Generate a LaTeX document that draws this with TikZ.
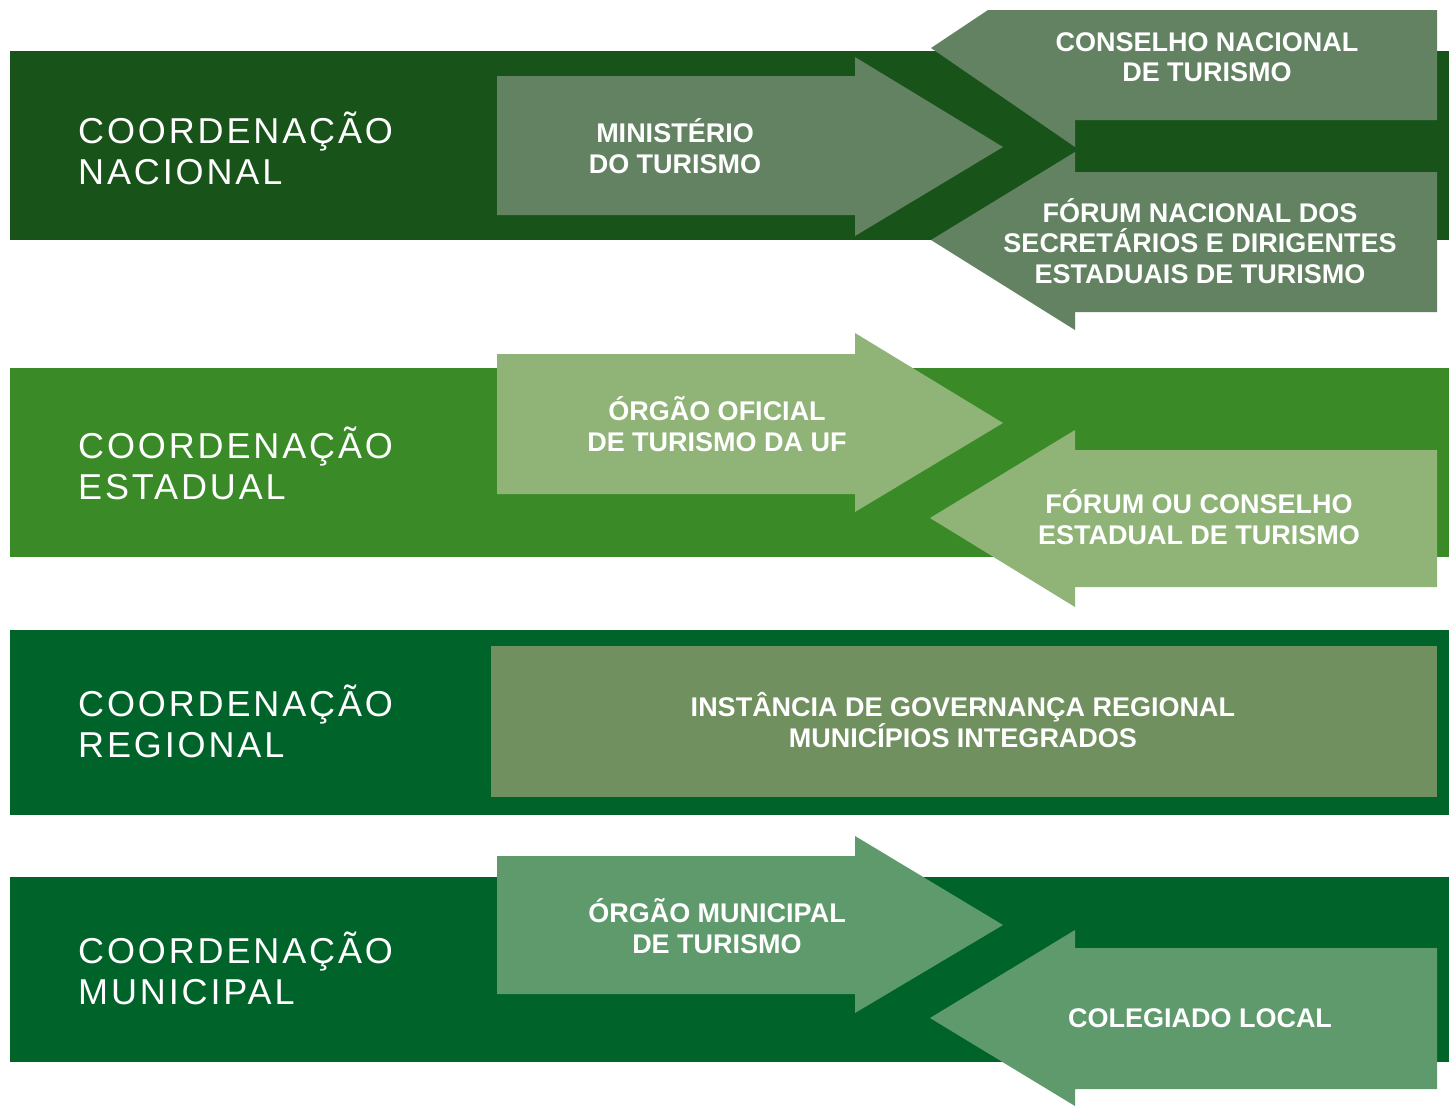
\documentclass[tikz,border=0pt]{standalone}
\usepackage{fontspec}
\setmainfont{Liberation Sans}
\newfontfamily\labfont[LetterSpace=8]{Liberation Sans}
\newfontfamily\innfont{Liberation Sans Bold}
\definecolor{bandA}{RGB}{24,84,26}
\definecolor{arrA}{RGB}{98,130,98}
\definecolor{bandB}{RGB}{58,138,40}
\definecolor{arrB}{RGB}{144,180,120}
\definecolor{bandC}{RGB}{0,100,42}
\definecolor{boxC}{RGB}{112,144,95}
\definecolor{bandD}{RGB}{0,99,42}
\definecolor{arrD}{RGB}{94,154,108}
\tikzset{
  lab/.style={text=white, anchor=west, align=left, font=\labfont\fontsize{36}{41}\selectfont, inner sep=0pt},
  inn/.style={text=white, align=center, font=\innfont\fontsize{27}{30.5}\selectfont, inner sep=0pt}
}
\begin{document}
\begin{tikzpicture}[x=1pt,y=-1pt]
\useasboundingbox (0,0) rectangle (1449,1106);
\fill[white] (0,0) rectangle (1449,1106);
% bands
\fill[bandA] (10,51) rectangle (1449,240);
\fill[bandB] (10,368) rectangle (1449,557);
\fill[bandC] (10,630) rectangle (1449,815);
\fill[bandD] (10,877) rectangle (1449,1062);
% level 1
\fill[arrA] (497,76) -- (855,76) -- (855,57) -- (1003,147) -- (855,236) -- (855,215) -- (497,215) -- cycle;
\fill[arrA] (931,48) -- (988,10) -- (1437,10) -- (1437,120) -- (1075,120) -- (1075,147) -- cycle;
\fill[arrA] (931,240) -- (1075,152) -- (1075,172) -- (1437,172) -- (1437,312) -- (1075,312) -- (1075,330) -- cycle;
% level 2
\fill[arrB] (497,354) -- (855,354) -- (855,333) -- (1003,423) -- (855,512) -- (855,494) -- (497,494) -- cycle;
\fill[arrB] (930,518) -- (1075,430) -- (1075,450) -- (1437,450) -- (1437,587) -- (1075,587) -- (1075,607) -- cycle;
% level 3
\fill[boxC] (491,646) rectangle (1437,797);
% level 4
\fill[arrD] (497,856) -- (855,856) -- (855,836) -- (1003,925) -- (855,1013) -- (855,994) -- (497,994) -- cycle;
\fill[arrD] (930,1018) -- (1075,930) -- (1075,948) -- (1437,948) -- (1437,1089) -- (1075,1089) -- (1075,1106) -- cycle;
% left labels
\node[lab] (nac) at (78,148) {COORDENAÇÃO\\NACIONAL};
\node[lab] (est) at (78,463) {COORDENAÇÃO\\ESTADUAL};
\node[lab] (reg) at (78,721) {COORDENAÇÃO\\REGIONAL};
\node[lab] (mun) at (78,968) {COORDENAÇÃO\\MUNICIPAL};
% inner labels
\node[inn] (min) at (675,146) {MINISTÉRIO\\DO TURISMO};
\node[inn] (cnt) at (1207,57) {CONSELHO NACIONAL\\DE TURISMO};
\node[inn] (fns) at (1200,241) {FÓRUM NACIONAL DOS\\SECRETÁRIOS E DIRIGENTES\\ESTADUAIS DE TURISMO};
\node[inn] (oof) at (717,424) {ÓRGÃO OFICIAL\\DE TURISMO DA UF};
\node[inn] (fce) at (1199,517) {FÓRUM OU CONSELHO\\ESTADUAL DE TURISMO};
\node[inn] (igr) at (963,720) {INSTÂNCIA DE GOVERNANÇA REGIONAL\\MUNICÍPIOS INTEGRADOS};
\node[inn] (omt) at (717,926) {ÓRGÃO MUNICIPAL\\DE TURISMO};
\node[inn] (col) at (1200,1018) {COLEGIADO LOCAL};
\end{tikzpicture}
\end{document}
